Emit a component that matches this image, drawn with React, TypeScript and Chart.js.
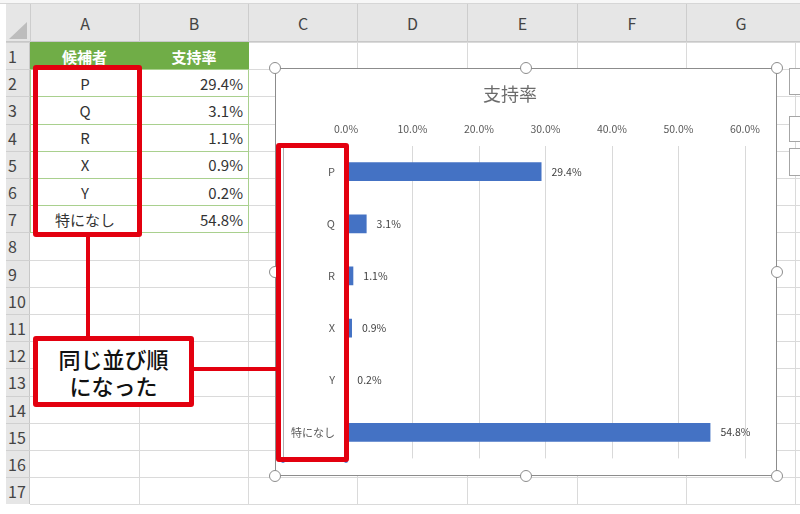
import { useEffect, useRef } from "react";
import { Chart, registerables } from "chart.js";

Chart.register(...registerables);

// chart data (same as cells A2:B7)
const candidates = ["P", "Q", "R", "X", "Y", "特になし"];
const supportRates = [29.4, 3.1, 1.1, 0.9, 0.2, 54.8];
const xTicks = [0, 10, 20, 30, 40, 50, 60];
const headerLabels = ["候補者", "支持率"];
const chartTitle = "支持率";
const calloutLines = ["同じ並び順", "になった"];
const columnLetters = ["A", "B", "C", "D", "E", "F", "G"];
const rowCount = 17;

const FONT = "'Noto Sans CJK JP', 'Noto Sans', sans-serif";
const RED = "#e3000f";
const colEdges = [30, 139, 248, 357, 467, 577, 686, 795];
const rowTop = (r: number) => 42 + (r - 1) * 27.2;

const barValueLabels = {
  id: "barValueLabels",
  afterDatasetsDraw(chart: any) {
    const ctx = chart.ctx;
    const meta = chart.getDatasetMeta(0);
    ctx.save();
    ctx.font = `10.5px ${FONT}`;
    ctx.fillStyle = "#404040";
    ctx.textBaseline = "middle";
    ctx.textAlign = "left";
    meta.data.forEach((bar: any, i: number) => {
      ctx.fillText(supportRates[i].toFixed(1) + "%", bar.x + 10, bar.y);
    });
    ctx.restore();
  },
};

const SupportChart = () => {
  const chartRef = useRef<HTMLCanvasElement>(null);
  const chartInstance = useRef<Chart | null>(null);

  useEffect(() => {
    if (!chartRef.current) return;
    if (chartInstance.current) chartInstance.current.destroy();
    const ctx = chartRef.current.getContext("2d");
    if (!ctx) return;

    chartInstance.current = new Chart(ctx, {
      type: "bar",
      data: {
        labels: candidates,
        datasets: [
          {
            label: chartTitle,
            data: supportRates,
            backgroundColor: "#4472c4",
            borderWidth: 0,
            barPercentage: 1,
            categoryPercentage: 0.36,
          },
        ],
      },
      options: {
        indexAxis: "y",
        responsive: true,
        maintainAspectRatio: false,
        animation: false,
        layout: { padding: { left: 0, right: 32, top: 0, bottom: 14 } },
        plugins: {
          legend: { display: false },
          tooltip: { enabled: false },
          title: {
            display: true,
            text: chartTitle,
            color: "#6b6b6b",
            font: { size: 18, family: FONT, weight: "normal" },
            padding: { top: 15, bottom: 0 },
          },
        },
        scales: {
          x: {
            position: "top",
            min: 0,
            max: 60,
            afterBuildTicks: (scale: any) => {
              scale.ticks = xTicks.map((v) => ({ value: v }));
            },
            afterFit: (scale: any) => {
              scale.height = 41;
            },
            grid: { color: "#d9d9d9", lineWidth: 1, drawTicks: false },
            border: { display: false },
            ticks: {
              color: "#595959",
              padding: 10,
              font: { size: 10.5, family: FONT },
              callback: (v: any) => Number(v).toFixed(1) + "%",
            },
          },
          y: {
            afterFit: (scale: any) => {
              scale.width = 71;
            },
            grid: { display: false, drawTicks: false },
            border: { display: true, color: "#d9d9d9" },
            ticks: {
              color: "#595959",
              padding: 11,
              font: { size: 11, family: FONT },
            },
          },
        },
      },
      plugins: [barValueLabels],
    });

    return () => {
      if (chartInstance.current) {
        chartInstance.current.destroy();
        chartInstance.current = null;
      }
    };
  }, []);

  return (
    <div style={{ position: "absolute", left: 275, top: 68, width: 502, height: 408, background: "#fff" }}>
      <canvas ref={chartRef} />
    </div>
  );
};

const abs = (l: number, t: number, w: number, h: number, extra: any = {}) => ({
  position: "absolute" as const,
  left: l,
  top: t,
  width: w,
  height: h,
  boxSizing: "border-box" as const,
  ...extra,
});

const Handle = ({ x, y }: { x: number; y: number }) => (
  <div
    style={abs(x - 6, y - 6, 12, 12, {
      borderRadius: "50%",
      border: "1.5px solid #8c8c8c",
      background: "#fff",
    })}
  />
);

const App = () => {
  const gridBottom = rowTop(rowCount + 1);
  const handles = [
    [275, 68], [526, 68], [777, 68],
    [275, 272], [777, 272],
    [275, 476], [526, 476], [777, 476],
  ];

  return (
    <div
      style={{
        position: "absolute",
        left: 0,
        top: 0,
        width: 800,
        height: 514,
        overflow: "hidden",
        background: "#fff",
        fontFamily: FONT,
      }}
    >
      {/* top strip */}
      <div style={abs(0, 0, 800, 4, { borderBottom: "1px solid #d6d6d6", background: "#f7f7f7" })} />

      {/* column header row */}
      <div style={abs(6, 4, 794, 38, { background: "#e6e6e6", borderBottom: "1px solid #c8c8c8" })} />
      <div
        style={abs(9, 22, 18, 17, {
          background: "#bdbdbd",
          clipPath: "polygon(100% 0, 100% 100%, 0 100%)",
        })}
      />
      {columnLetters.map((c, i) => (
        <div
          key={c}
          style={abs(colEdges[i], 4, colEdges[i + 1] - colEdges[i], 38, {
            borderLeft: "1px solid #cdcdcd",
            color: "#444",
            fontSize: 16,
            display: "flex",
            alignItems: "center",
            justifyContent: "center",
          })}
        >
          {c}
        </div>
      ))}

      {/* row header column */}
      <div style={abs(6, 42, 24, gridBottom - 42, { background: "#e6e6e6", borderRight: "1px solid #c8c8c8" })} />
      {Array.from({ length: rowCount }, (_, i) => (
        <div
          key={i}
          style={abs(6, rowTop(i + 1), 24, 27.2, {
            borderTop: "1px solid #d0d0d0",
            color: "#444",
            fontSize: 16,
            lineHeight: "27px",
            paddingLeft: 2,
          })}
        >
          {i + 1}
        </div>
      ))}

      {/* cell grid lines */}
      {colEdges.slice(1).map((x, i) => (
        <div key={"v" + i} style={abs(x, 42, 1, gridBottom - 42, { background: "#dadada" })} />
      ))}
      {Array.from({ length: rowCount + 1 }, (_, i) => (
        <div key={"h" + i} style={abs(30, rowTop(i + 1), 770, 1, { background: "#dadada" })} />
      ))}

      {/* header cells */}
      {headerLabels.map((h, i) => (
        <div
          key={h}
          style={abs(colEdges[i], rowTop(1), colEdges[i + 1] - colEdges[i] + (i === 0 ? 0 : 1), 28, {
            background: "#70ad47",
            color: "#fff",
            fontWeight: "bold",
            fontSize: 15,
            display: "flex",
            alignItems: "center",
            justifyContent: "center",
          })}
        >
          {h}
        </div>
      ))}

      {/* data cells */}
      {candidates.map((name, i) => (
        <div key={name}>
          <div
            style={abs(colEdges[0], rowTop(i + 2), 110, 28.2, {
              border: "1px solid #a9d08e",
              background: "#fff",
              color: "#333",
              fontSize: 15,
              display: "flex",
              alignItems: "center",
              justifyContent: "center",
            })}
          >
            {name}
          </div>
          <div
            style={abs(colEdges[1], rowTop(i + 2), 110, 28.2, {
              border: "1px solid #a9d08e",
              background: "#fff",
              color: "#333",
              fontSize: 15,
              display: "flex",
              alignItems: "center",
              justifyContent: "flex-end",
              paddingRight: 5,
            })}
          >
            {supportRates[i].toFixed(1) + "%"}
          </div>
        </div>
      ))}

      {/* chart object */}
      <SupportChart />
      <div style={abs(275, 68, 502, 408, { border: "1.5px solid #8c8c8c" })} />
      {/* axis selection frame */}
      <div style={abs(283, 145, 1, 316, { background: "#b0b0b0" })} />
      <div style={abs(281, 459, 4, 4, { borderRadius: "50%", background: "#4f81d9" })} />
      <div style={abs(344, 459, 4, 4, { borderRadius: "50%", background: "#4f81d9" })} />
      {handles.map(([x, y], i) => (
        <Handle key={i} x={x} y={y} />
      ))}

      {/* chart side buttons */}
      <div style={abs(789, 68, 20, 27, { border: "1px solid #a6a6a6", background: "#fff" })} />
      <div style={abs(789, 116, 20, 26, { border: "1px solid #a6a6a6", background: "#fff" })} />
      <div style={abs(789, 148, 20, 28, { border: "1px solid #a6a6a6", background: "#fff" })} />

      {/* annotations */}
      <div style={abs(33, 65, 109, 172, { border: `5px solid ${RED}`, borderRadius: 3 })} />
      <div style={abs(276, 143, 73, 319, { border: `5px solid ${RED}`, borderRadius: 3 })} />
      <div style={abs(86, 236, 4, 101, { background: RED })} />
      <div style={abs(192, 367, 86, 4, { background: RED })} />
      <div
        style={abs(33, 336, 161, 71, {
          border: `5px solid ${RED}`,
          borderRadius: 3,
          background: "#fff",
          color: "#111",
          fontSize: 22,
          fontWeight: 500,
          lineHeight: "27px",
          display: "flex",
          flexDirection: "column",
          alignItems: "center",
          justifyContent: "center",
        })}
      >
        {calloutLines.map((l) => (
          <div key={l}>{l}</div>
        ))}
      </div>
    </div>
  );
};

export default App;
